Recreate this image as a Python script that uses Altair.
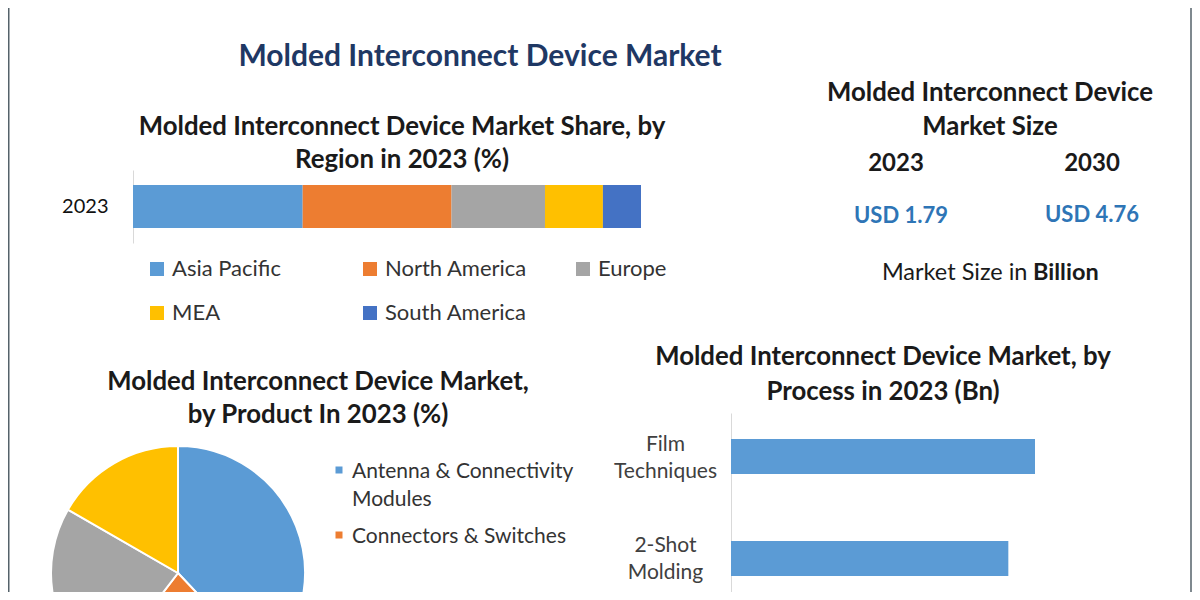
import altair as alt
import pandas as pd

# ---------------- data ----------------
regions = ["Asia Pacific", "North America", "Europe", "MEA", "South America"]
region_share = [33.4, 29.3, 18.4, 11.4, 7.5]
region_year = "2023"

products = ["Antenna & Connectivity\nModules", "Connectors & Switches", "Sensors", "Lighting"]
product_share = [38.0, 22.4, 22.9, 16.7]

processes = ["Film\nTechniques", "2-Shot\nMolding"]
process_value = [0.57, 0.52]

size_years = ["2023", "2030"]
size_values = ["USD 1.79", "USD 4.76"]

palette = ["#5B9BD5", "#ED7D31", "#A5A5A5", "#FFC000", "#4472C4"]
FONT = "Lato"
H = 584

region_df = pd.DataFrame({"region": regions, "share": region_share, "year": region_year})
prod_df = pd.DataFrame({"product": products, "share": product_share})
proc_df = pd.DataFrame({"process": processes, "value": process_value})


def label(text, x, y, size, weight="bold", color="#1a1a1a", align="center"):
    return alt.Chart(alt.Data(values=[{"t": text}])).mark_text(
        font=FONT, fontSize=size, fontWeight=weight, color=color,
        align=align, baseline="middle",
    ).encode(x=alt.value(x), y=alt.value(y), text="t:N")


# ---------------- region stacked bar ----------------
region_bar = alt.Chart(region_df).transform_window(idx="row_number()").mark_bar().encode(
    x=alt.X("share:Q", stack="zero", axis=None,
            scale=alt.Scale(domain=[0, 100], range=[125, 633], nice=False, zero=True)),
    y=alt.Y("year:N", title=None,
            scale=alt.Scale(range=[162, 235], paddingInner=0, paddingOuter=0.349),
            axis=alt.Axis(orient="left", offset=-125, ticks=False, tickSize=0,
                          domainColor="#d9d9d9", labelFontSize=20, labelFont=FONT,
                          labelPadding=25, labelColor="#111111")),
    color=alt.Color("region:N", scale=alt.Scale(domain=regions, range=palette),
                    legend=alt.Legend(orient="none", legendX=138, legendY=250, columns=3,
                                      direction="horizontal", gridAlign="all",
                                      columnPadding=44, rowPadding=22, symbolType="square",
                                      symbolSize=196, symbolStrokeWidth=0, labelFontSize=22,
                                      labelFont=FONT, labelColor="#333333", labelOffset=4,
                                      title=None, padding=0, labelLimit=300)),
    order=alt.Order("idx:Q"),
)

# ---------------- product pie ----------------
pie = alt.Chart(prod_df).transform_window(idx="row_number()").mark_arc(
    outerRadius=127, stroke="white", strokeWidth=2
).encode(
    theta=alt.Theta("share:Q", stack=True),
    color=alt.Color("product:N", scale=alt.Scale(domain=products, range=palette[:4]), legend=None),
    order=alt.Order("idx:Q"),
    x=alt.value(170), y=alt.value(565),
)

leg_scale = alt.Scale(type="point", domain=products, range=[462, 657], padding=0)
pie_leg_sq = alt.Chart(prod_df).mark_square(size=49, opacity=1).encode(
    x=alt.value(331),
    y=alt.Y("product:N", scale=leg_scale, axis=None),
    color=alt.Color("product:N", scale=alt.Scale(domain=products, range=palette[:4]), legend=None),
)
pie_leg_tx = alt.Chart(prod_df).mark_text(
    align="left", baseline="top", dy=-9, lineBreak="\n", lineHeight=28,
    font=FONT, fontSize=21, color="#333333"
).encode(
    x=alt.value(344),
    y=alt.Y("product:N", scale=leg_scale, axis=None),
    text="product:N",
)

# ---------------- process bars ----------------
proc_bar = alt.Chart(proc_df).mark_bar(color="#5B9BD5").encode(
    x=alt.X("value:Q", axis=None,
            scale=alt.Scale(domain=[0, 0.6], range=[723, 1043], nice=False, zero=True)),
    y=alt.Y("process:N", title=None,
            scale=alt.Scale(domain=processes, range=[405, 594], paddingInner=0.657, paddingOuter=0.255),
            axis=alt.Axis(orient="left", offset=-723, ticks=False, tickSize=0,
                          domainColor="#d9d9d9", labelAlign="center", labelBaseline="middle",
                          labelPadding=66, labelOffset=-12,
                          labelExpr="split(datum.label, '\\n')",
                          labelLineHeight=27, labelFontSize=21, labelFont=FONT,
                          labelColor="#404040")),
)

# ---------------- texts ----------------
texts = [
    label("Molded Interconnect Device Market", 472, 49, 30, color="#1f3864"),
    label("Molded Interconnect Device Market Share, by", 394, 119, 25.8),
    label("Region in 2023 (%)", 394, 152, 25.8),
    label("Molded Interconnect Device", 982, 85, 25.8),
    label("Market Size", 982, 119, 25.8),
    label(size_years[0], 888, 156, 24),
    label(size_years[1], 1084, 156, 24),
    label(size_values[0], 893, 208, 22, color="#2E75B6"),
    label(size_values[1], 1084, 207, 22, color="#2E75B6"),
    label("Market Size in", 1019.5, 265, 23.5, weight="normal", align="right"),
    label("Billion", 1025, 265, 23.5, align="left"),
    label("Molded Interconnect Device Market,", 310, 374, 25.8),
    label("by Product In 2023 (%)", 310, 407, 25.8),
    label("Molded Interconnect Device Market, by", 875, 349, 25.8),
    label("Process in 2023 (Bn)", 875, 384, 25.8),
]

frame_r = alt.Chart(alt.Data(values=[{}])).mark_rule(color="#55626a", strokeWidth=1.5).encode(
    x=alt.value(1183), y=alt.value(0), y2=alt.value(H))
frame_l = alt.Chart(alt.Data(values=[{}])).mark_rule(color="#55626a", strokeWidth=1.5).encode(
    x=alt.value(0.75), y=alt.value(0), y2=alt.value(H))

chart = alt.layer(
    region_bar, pie, pie_leg_sq, pie_leg_tx, proc_bar, frame_r, frame_l, *texts
).resolve_scale(
    x="independent", y="independent", color="independent", theta="independent"
).properties(
    width=1184, height=H, padding=0,
    autosize=alt.AutoSizeParams(type="none"),
    background="white",
).configure_view(stroke=None)

chart.save("out.html", embed_options={"renderer": "svg", "actions": False})
